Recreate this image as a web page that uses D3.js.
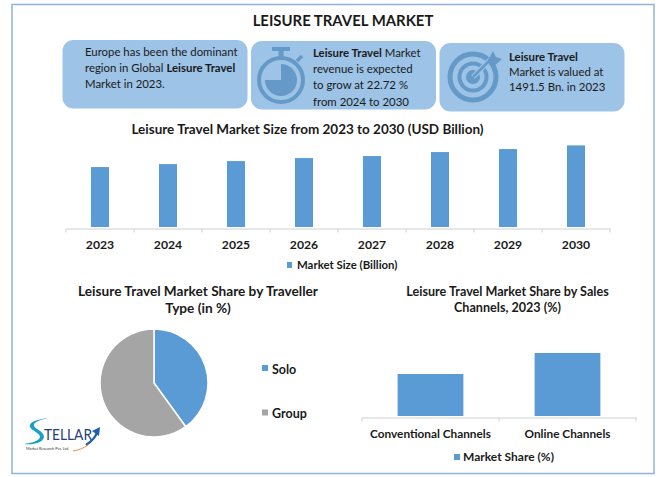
<!DOCTYPE html>
<html>
<head>
<meta charset="utf-8">
<script src="https://cdn.jsdelivr.net/npm/d3@7"></script>
<style>
  html, body { margin: 0; padding: 0; background: #fff; }
  svg { display: block; }
  text { font-family: Lato, "Open Sans", sans-serif; fill: #1a1a1a; }
  .domain, .tick line { stroke: #d0d0d0; }
</style>
</head>
<body>
<svg id="chart"></svg>
<script>
var years = ["2023", "2024", "2025", "2026", "2027", "2028", "2029", "2030"];
var marketSize = [1491.5, 1566, 1640, 1715, 1765, 1864, 1939, 2030];

var travellerTypes = ["Solo", "Group"];
var travellerShare = [40, 60];

var channels = ["Conventional Channels", "Online Channels"];
var channelShare = [40, 60];

var blue = "#5b9bd5", grey = "#a5a5a5", card = "#9dc3e6", icon = "#659ac8";

var svg = d3.select("#chart").attr("width", 661).attr("height", 477);

svg.append("rect").attr("x", 0).attr("y", 0).attr("width", 661).attr("height", 477).attr("fill", "#fff");
svg.append("rect")
  .attr("x", 12).attr("y", 4.5).attr("width", 642).attr("height", 469)
  .attr("fill", "none").attr("stroke", "#8fb4d9").attr("stroke-width", 1.5);

function label(x, y, str, size, weight, anchor) {
  return svg.append("text")
    .attr("x", x).attr("y", y)
    .attr("font-size", size)
    .attr("font-weight", weight || "normal")
    .attr("text-anchor", anchor || "start")
    .text(str);
}

label(343, 26, "LEISURE TRAVEL MARKET", 14.9, "bold", "middle");

// info cards
[[62.5, 40], [251, 41], [439.5, 43]].forEach(function(p) {
  svg.append("rect")
    .attr("x", p[0]).attr("y", p[1]).attr("width", 185).attr("height", 68.5)
    .attr("rx", 11).attr("fill", card);
});

function richLine(x, y, parts) {
  var t = svg.append("text").attr("x", x).attr("y", y).attr("font-size", 11.4);
  parts.forEach(function(p) {
    t.append("tspan").attr("font-weight", p[1] ? "bold" : "normal").text(p[0]);
  });
}

richLine(85, 56, [["Europe has been the dominant"]]);
richLine(85, 72, [["region in Global "], ["Leisure Travel", 1]]);
richLine(85, 88, [["Market in 2023."]]);

richLine(313, 57, [["Leisure Travel", 1], [" Market"]]);
richLine(313, 73, [["revenue is expected"]]);
richLine(313, 89, [["to grow at 22.72 %"]]);
richLine(313, 106, [["from 2024 to 2030"]]);

richLine(509, 61, [["Leisure Travel", 1]]);
richLine(509, 76, [["Market is valued at"]]);
richLine(509, 91, [["1491.5 Bn. in 2023"]]);

// stopwatch icon
var watch = svg.append("g").attr("transform", "translate(281,80)");
watch.append("circle").attr("r", 22).attr("fill", "none").attr("stroke", icon).attr("stroke-width", 4);
watch.append("path").attr("fill", icon)
  .attr("d", d3.arc().innerRadius(0).outerRadius(16).startAngle(0).endAngle(Math.PI * 1.5)());
watch.append("rect").attr("x", -2.5).attr("y", -30).attr("width", 5).attr("height", 7).attr("fill", icon);
watch.append("rect").attr("x", -9).attr("y", -33).attr("width", 18).attr("height", 4).attr("fill", icon);
watch.append("line").attr("x1", 16).attr("y1", -19).attr("x2", 21).attr("y2", -24)
  .attr("stroke", icon).attr("stroke-width", 3.5);

// target icon
var target = svg.append("g").attr("transform", "translate(473,77)");
[[23, 5], [13.5, 4]].forEach(function(r) {
  target.append("circle").attr("r", r[0]).attr("fill", "none").attr("stroke", icon).attr("stroke-width", r[1]);
});
target.append("circle").attr("r", 7).attr("fill", icon);
target.append("line").attr("x1", 0).attr("y1", 0).attr("x2", 18).attr("y2", -18)
  .attr("stroke", card).attr("stroke-width", 5);
target.append("line").attr("x1", 0).attr("y1", 0).attr("x2", 17).attr("y2", -17)
  .attr("stroke", icon).attr("stroke-width", 2.5);
target.append("path").attr("fill", icon).attr("d", "M14,-15L20,-26L23,-20L29,-18L20,-10Z");

// market size chart
label(307.5, 134, "Leisure Travel Market Size from 2023 to 2030 (USD Billion)", 13.5, "bold", "middle");

var x = d3.scaleBand().domain(years).range([66, 610]).paddingInner(0.735).paddingOuter(0.3675);
var y = d3.scaleLinear().domain([0, 2500]).range([227, 126.5]);

svg.append("g").selectAll("rect")
  .data(marketSize)
  .join("rect")
  .attr("x", function(d, i) { return x(years[i]); })
  .attr("y", function(d) { return y(d); })
  .attr("width", x.bandwidth())
  .attr("height", function(d) { return y(0) - y(d); })
  .attr("fill", blue);

var xAxis = svg.append("g")
  .attr("transform", "translate(0,228.5)")
  .call(d3.axisBottom(x).tickSize(0).tickPadding(12));
xAxis.selectAll("text").attr("font-size", 12.2).attr("font-weight", "bold").style("font-family", "Lato");
xAxis.selectAll(".edge")
  .data(d3.range(years.length + 1))
  .join("line")
  .attr("x1", function(i) { return x.range()[0] + i * x.step(); })
  .attr("x2", function(i) { return x.range()[0] + i * x.step(); })
  .attr("y1", 0).attr("y2", 4).attr("stroke", "#d0d0d0");

svg.append("rect").attr("x", 287).attr("y", 262).attr("width", 5).attr("height", 6).attr("fill", blue);
label(297, 269, "Market Size (Billion)", 11.4, "bold");

// traveller share pie
label(198, 296, "Leisure Travel Market Share by Traveller", 13.65, "bold", "middle");
label(198, 313, "Type (in %)", 13.65, "bold", "middle");

var pie = d3.pie().sort(null);
var arc = d3.arc().innerRadius(0).outerRadius(54);
svg.append("g").attr("transform", "translate(154,383)")
  .selectAll("path")
  .data(pie(travellerShare))
  .join("path")
  .attr("d", arc)
  .attr("fill", function(d, i) { return [blue, grey][i]; })
  .attr("stroke", "#fff").attr("stroke-width", 1.5);

travellerTypes.forEach(function(t, i) {
  var ly = 369 + i * 44.5;
  svg.append("rect").attr("x", 262).attr("y", ly - 4).attr("width", 6).attr("height", 6)
    .attr("fill", [blue, grey][i]);
  label(272, ly + 4.5, t, 12.5, "bold");
});

// sales channel chart
label(507.5, 296, "Leisure Travel Market Share by Sales", 12.6, "bold", "middle");
label(507.5, 312, "Channels, 2023 (%)", 12.6, "bold", "middle");

var cx = d3.scaleBand().domain(channels).range([362, 636]).paddingInner(0.52).paddingOuter(0.26);
var cy = d3.scaleLinear().domain([0, 60]).range([416, 353]);

svg.append("g").selectAll("rect")
  .data(channelShare)
  .join("rect")
  .attr("x", function(d, i) { return cx(channels[i]); })
  .attr("y", function(d) { return cy(d); })
  .attr("width", cx.bandwidth())
  .attr("height", function(d) { return cy(0) - cy(d); })
  .attr("fill", blue);

var cAxis = svg.append("g")
  .attr("transform", "translate(0,417.5)")
  .call(d3.axisBottom(cx).tickSize(0).tickPadding(12));
cAxis.selectAll("text").attr("font-size", 11.8).attr("font-weight", "bold").style("font-family", "Lato");
cAxis.selectAll(".edge")
  .data(d3.range(channels.length + 1))
  .join("line")
  .attr("x1", function(i) { return cx.range()[0] + i * cx.step(); })
  .attr("x2", function(i) { return cx.range()[0] + i * cx.step(); })
  .attr("y1", 0).attr("y2", 4).attr("stroke", "#d0d0d0");

svg.append("rect").attr("x", 454).attr("y", 454).attr("width", 6).attr("height", 6).attr("fill", blue);
label(463, 461, "Market Share (%)", 12, "bold");

// logo
var logo = svg.append("g");
logo.append("path").attr("fill", "#1aa0c8")
  .attr("d", "M49,418C38,419 28,422 30,427C32,431 40,433 40,437C39,441 31,443 24,444C33,445 43,443 44,437C44,431 35,429 34,426C33,422 40,420 49,418Z");
logo.append("text").attr("x", 44).attr("y", 440).attr("font-size", 15).attr("textLength", 48)
  .attr("lengthAdjust", "spacingAndGlyphs").style("fill", "#1f3f7a").text("TELLAR");
logo.append("path").attr("fill", "none").attr("stroke", "#1f5fae").attr("stroke-width", 2.2).attr("d", "M86,445C92,441 96,437 97,432");
logo.append("path").attr("fill", "#1f5fae").attr("d", "M100,427L92,431L99,436Z");
logo.append("path").attr("fill", "none").attr("stroke", "#e8923a").attr("stroke-width", 1).attr("d", "M73,451C79,450 84,448 88,445");
logo.append("text").attr("x", 26).attr("y", 450).attr("font-size", 4.6).attr("textLength", 43)
  .attr("lengthAdjust", "spacingAndGlyphs").style("fill", "#333").text("Market Research Pvt. Ltd.");
</script>
</body>
</html>
